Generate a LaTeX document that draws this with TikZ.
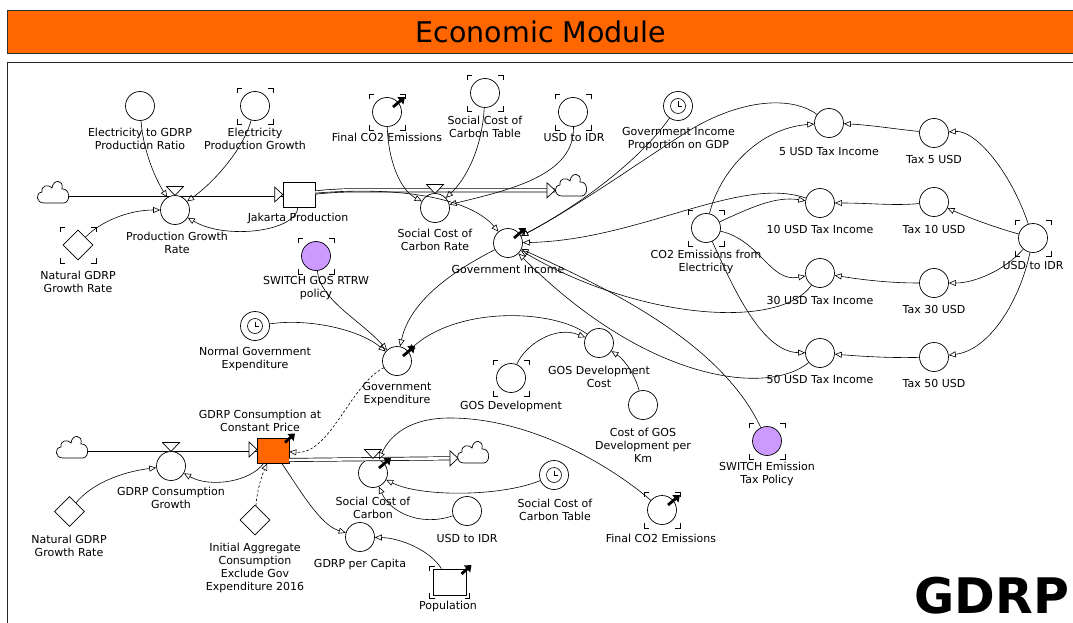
\documentclass[tikz,border=0pt]{standalone}
\usepackage{fontspec}
\setmainfont{DejaVu Sans}
\usetikzlibrary{arrows.meta,shapes.geometric}
\definecolor{vorange}{HTML}{FF6600}
\definecolor{vpurple}{HTML}{CC99FF}
\newcommand\lf{\fontsize{11}{13}\selectfont}
\tikzset{
  pics/brk/.style={code={\draw[line width=0.7pt] (-18,-13)--(-18,-18)--(-13,-18) (13,-18)--(18,-18)--(18,-13) (18,13)--(18,18)--(13,18) (-13,18)--(-18,18)--(-18,13);}},
  pics/brkrect/.style={code={\draw[line width=0.7pt] (-20,-11)--(-20,-16)--(-15,-16) (15,-16)--(20,-16)--(20,-11) (20,11)--(20,16)--(15,16) (-15,16)--(-20,16)--(-20,11);}},
  pics/clk/.style={code={\draw[line width=0.6pt] (0,0) circle[radius=7.5]; \draw[line width=0.6pt] (0,-4.5)--(0,0)--(3.5,0);}},
  pics/oarr/.style={code={\draw[line width=2.8pt,-{Triangle[length=6pt,width=9pt]}] (6,-5)--(18,-15);}},
  pics/oarrs/.style={code={\draw[line width=2.8pt,-{Triangle[length=6pt,width=9pt]}] (12,-8)--(22,-17);}},
  pics/valve/.style={code={\draw[line width=0.7pt,fill=white] (-8.5,-9)--(8.5,-9)--(0,0)--cycle;}},
  pics/fhead/.style={code={\draw[line width=0.7pt,fill=white] (-8,-7.5)--(0,0)--(-8,7.5)--cycle;}},
  pics/vcloud/.style={code={\draw[line width=0.7pt,fill=white] (-9,11) .. controls (-17,11) and (-18,1) .. (-11,0) .. controls (-12,-7) and (-4,-8) .. (-1,-4) .. controls (0,-13) and (11,-13) .. (9,-3) .. controls (17,-4) and (18,10) .. (11,11) -- cycle;}},
}
\begin{document}
\begin{tikzpicture}[x=1pt,y=-1pt,
  aux/.style={circle,draw,line width=0.7pt,minimum size=29pt,inner sep=0pt,fill=white},
  sw/.style={aux,fill=vpurple},
  stockbox/.style={rectangle,draw,line width=0.7pt,minimum width=32pt,minimum height=25pt,inner sep=0pt,fill=white},
  cst/.style={diamond,draw,line width=0.7pt,minimum size=30pt,inner sep=0pt,fill=white},
  lbl/.style={align=center,font=\lf,inner sep=0pt},
  lnk/.style={line width=0.6pt,-{Triangle[open,length=7pt,width=6pt]}},
  dlnk/.style={lnk,dash pattern=on 2.5pt off 2pt},
  pipe/.style={double,double distance=2.6pt,line width=0.7pt},
]
\useasboundingbox (0,0) rectangle (1073,623);
\clip (0,0) rectangle (1073,623);
% title bar and frame
\node[draw=black!80,line width=0.8pt,fill=vorange,minimum width=1080pt,minimum height=43pt,anchor=north west,inner sep=0pt] (title) at (7,10) {};
\node[font=\fontsize{28.5}{32}\selectfont,inner sep=0pt] (ttext) at (541,32) {Economic Module};
\draw[line width=0.9pt,black!85] (1090,62) -- (7,62) -- (7,640);
\node[font=\fontsize{49}{52}\selectfont\bfseries,inner sep=0pt,anchor=base] (gdrp) at (992,613) {GDRP};

% ---------- top-left: Jakarta production ----------
\coordinate (cl1) at (53,192);
\node[aux] (etg) at (140,106) {};
\node[aux] (epg) at (255,106) {}; \pic at (255,106) {brk};
\node[stockbox] (jp) at (299,194.5) {};
\draw[pipe] (68,194.5) -- (jp.west);
\pic at (cl1) {vcloud};
\pic at (jp.west) {fhead};
\node[aux] (pgr) at (175,210) {};
\pic at (175,195.5) {valve};
\node[cst] (ngr1) at (78,245) {}; \pic at (78,245) {brk};

% outflow of Jakarta production
\coordinate (cl2) at (571,185);
\node[aux] (sccr) at (435,208) {};
\draw[pipe] (jp.east) ++(0,-2) .. controls (330,191) and (340,190.3) .. (360,190.3) -- (555,190.3);
\pic at (cl2) {vcloud};
\pic at (555,190.3) {fhead};
\pic at (435,193.5) {valve};

\node[aux] (fce1) at (387,112) {}; \pic at (387,112) {brk}; \pic at (387,112) {oarr};
\node[aux] (scct1) at (485,93) {}; \pic at (485,93) {brk};
\node[aux] (usd1) at (573,112) {}; \pic at (573,112) {brk};
\node[aux] (gipg) at (678,106) {}; \pic at (678,106) {clk};
\node[aux] (gi) at (508,243) {}; \pic at (508,243) {oarr};

% ---------- right: tax incomes ----------
\node[aux] (t5i) at (829,123) {};
\node[aux] (t5) at (934,133) {};
\node[aux] (t10i) at (820,203) {};
\node[aux] (t10) at (934,202) {};
\node[aux] (co2e) at (706,228) {}; \pic at (706,228) {brk};
\node[aux] (t30i) at (820,273) {};
\node[aux] (t30) at (934,283) {};
\node[aux] (t50i) at (820,353) {};
\node[aux] (t50) at (934,357) {};
\node[aux] (usd2) at (1033,238) {}; \pic at (1033,238) {brk};

% ---------- middle ----------
\node[sw] (sgos) at (316,256) {}; \pic at (316,256) {brk};
\node[aux] (nge) at (255,326) {}; \pic at (255,326) {clk};
\node[aux] (ge) at (397,361) {}; \pic at (397,361) {oarr};
\node[aux] (gdc) at (599,343) {};
\node[aux] (gd) at (511,378) {}; \pic at (511,378) {brk};
\node[aux] (cgk) at (643,405) {};
\node[sw] (set) at (767,441) {}; \pic at (767,441) {brk};

% ---------- bottom: GDRP consumption ----------
\coordinate (cl3) at (72,447);
\node[stockbox,fill=vorange] (gcs) at (273,450.5) {};
\draw[pipe] (87,449.5) -- (gcs.west |- 0,449.5);
\pic at (cl3) {vcloud};
\pic at (257,449.5) {fhead};
\node[aux] (gcg) at (171,466) {};
\pic at (171,451.5) {valve};
\pic at (273,450.5) {oarrs};

\coordinate (cl4) at (473,452);
\node[aux] (scc) at (373,473) {};
\draw[pipe] (289,460) -- (452,458.3);
\pic at (cl4) {vcloud};
\pic at (458,458.3) {fhead};
\pic at (373,458.5) {valve};
\pic at (373,473) {oarr};

\node[cst] (ngr2) at (69.5,511.5) {};
\node[cst] (iac) at (255,520) {};
\node[aux] (usd3) at (467,511) {};
\node[aux] (scct2) at (554,475) {}; \pic at (554,475) {clk};
\node[aux] (fce2) at (662,510) {}; \pic at (662,510) {brk}; \pic at (662,510) {oarr};
\node[aux] (gpc) at (360,537) {};
\node[stockbox,minimum width=33pt,minimum height=26pt] (pop) at (449.5,582) {}; \pic at (449.5,582) {brkrect}; \pic at (449.5,582) {oarrs};

% ---------- labels ----------
\node[lbl] (l-etg) at (140,139) {Electricity to GDRP\\Production Ratio};
\node[lbl] (l-epg) at (255,139) {Electricity\\Production Growth};
\node[lbl] (l-pgr) at (177,243) {Production Growth\\Rate};
\node[lbl] (l-jp) at (298,218) {Jakarta Production};
\node[lbl] (l-ngr1) at (78,282) {Natural GDRP\\Growth Rate};
\node[lbl] (l-fce1) at (387,137) {Final CO2 Emissions};
\node[lbl] (l-scct1) at (485,127) {Social Cost of\\Carbon Table};
\node[lbl] (l-usd1) at (574,137) {USD to IDR};
\node[lbl] (l-gipg) at (678.5,139) {Government Income\\Proportion on GDP};
\node[lbl] (l-sccr) at (435,239.5) {Social Cost of\\Carbon Rate};
\node[lbl] (l-gi) at (508,269) {Government Income};
\node[lbl] (l-t5i) at (829,151) {5 USD Tax Income};
\node[lbl] (l-t5) at (934,159) {Tax 5 USD};
\node[lbl] (l-t10i) at (820,229) {10 USD Tax Income};
\node[lbl] (l-t10) at (934,229) {Tax 10 USD};
\node[lbl] (l-co2e) at (706,261.5) {CO2 Emissions from\\Electricity};
\node[lbl] (l-t30i) at (820,300) {30 USD Tax Income};
\node[lbl] (l-t30) at (934,309) {Tax 30 USD};
\node[lbl] (l-t50i) at (820,379) {50 USD Tax Income};
\node[lbl] (l-t50) at (934,383) {Tax 50 USD};
\node[lbl] (l-usd2) at (1033,265) {USD to IDR};
\node[lbl] (l-sgos) at (316,288.5) {SWITCH GOS RTRW\\policy};
\node[lbl] (l-nge) at (255,358.5) {Normal Government\\Expenditure};
\node[lbl] (l-ge) at (397,394.5) {Government\\Expenditure};
\node[lbl] (l-gdc) at (599,377) {GOS Development\\Cost};
\node[lbl] (l-gd) at (511,406) {GOS Development};
\node[lbl] (l-cgk) at (643,445) {Cost of GOS\\Development per\\Km};
\node[lbl] (l-set) at (767,473.5) {SWITCH Emission\\Tax Policy};
\node[lbl] (l-gcs) at (260,420.5) {GDRP Consumption at\\Constant Price};
\node[lbl] (l-gcg) at (171,498) {GDRP Consumption\\Growth};
\node[lbl] (l-ngr2) at (69,546) {Natural GDRP\\Growth Rate};
\node[lbl] (l-iac) at (255,568) {Initial Aggregate\\Consumption\\Exclude Gov\\Expenditure 2016};
\node[lbl] (l-scc) at (373,507.5) {Social Cost of\\Carbon};
\node[lbl] (l-usd3) at (467,538) {USD to IDR};
\node[lbl] (l-scct2) at (555,509.5) {Social Cost of\\Carbon Table};
\node[lbl] (l-fce2) at (661,538) {Final CO2 Emissions};
\node[lbl] (l-gpc) at (360,564) {GDRP per Capita};
\node[lbl] (l-pop) at (448,606) {Population};

% ---------- links ----------
\draw[lnk] (etg) .. controls (143,150) and (155,178) .. (pgr);
\draw[lnk] (epg) .. controls (243,150) and (213,183) .. (pgr);
\draw[lnk] (ngr1) .. controls (100,222) and (128,210) .. (pgr);
\draw[lnk] (jp) .. controls (296,232) and (225,240) .. (pgr);

\draw[lnk] (fce1) .. controls (388,160) and (400,190) .. (sccr);
\draw[lnk] (scct1) .. controls (482,150) and (465,180) .. (sccr);
\draw[lnk] (usd1) .. controls (575,175) and (510,190) .. (sccr);
\draw[lnk] (jp) .. controls (400,186) and (470,198) .. (gi);
\draw[lnk] (gipg) .. controls (640,160) and (580,205) .. (gi);
\draw[lnk] (t5i) .. controls (790,95) and (740,100) .. (690,130) .. controls (645,158) and (580,205) .. (gi);
\draw[lnk] (t10i) .. controls (740,175) and (640,240) .. (gi);
\draw[lnk] (t30i) .. controls (780,330) and (640,320) .. (gi);
\draw[lnk] (t50i) .. controls (770,395) and (650,385) .. (gi);
\draw[lnk] (set) .. controls (720,340) and (600,285) .. (gi);
\draw[lnk] (gi) .. controls (455,270) and (410,300) .. (ge);

\draw[lnk] (t5) .. controls (895,129) and (870,125) .. (t5i);
\draw[lnk] (t10) .. controls (895,206) and (870,203) .. (t10i);
\draw[lnk] (t30) .. controls (895,283) and (870,281) .. (t30i);
\draw[lnk] (t50) .. controls (895,358) and (870,357) .. (t50i);
\draw[lnk] (usd2) .. controls (1010,170) and (975,130) .. (t5);
\draw[lnk] (usd2) .. controls (990,226) and (965,216) .. (t10);
\draw[lnk] (usd2) .. controls (1005,270) and (975,283) .. (t30);
\draw[lnk] (usd2) .. controls (1020,300) and (990,350) .. (t50);
\draw[lnk] (co2e) .. controls (720,170) and (760,128) .. (t5i);
\draw[lnk] (co2e) .. controls (750,208) and (775,196) .. (t10i);
\draw[lnk] (co2e) .. controls (760,240) and (770,283) .. (t30i);
\draw[lnk] (co2e) .. controls (730,280) and (760,352) .. (t50i);

\draw[lnk] (sgos) .. controls (320,300) and (360,320) .. (ge);
\draw[lnk] (nge) .. controls (310,318) and (360,330) .. (ge);
\draw[lnk] (gdc) .. controls (555,310) and (460,305) .. (ge);
\draw[lnk] (gd) .. controls (525,345) and (555,325) .. (gdc);
\draw[lnk] (cgk) .. controls (635,375) and (625,360) .. (gdc);

\draw[lnk] (ngr2) .. controls (90,485) and (120,472) .. (gcg);
\draw[lnk] (gcs) .. controls (250,482) and (210,488) .. (gcg);
\draw[dlnk] (iac) .. controls (257,490) and (262,475) .. (gcs);
\draw[dlnk] (ge) .. controls (350,385) and (330,455) .. (gcs);
\draw[lnk] (gcs) .. controls (300,490) and (320,525) .. (gpc);
\draw[lnk] (pop) .. controls (430,550) and (400,538) .. (gpc);
\draw[lnk] (fce2) .. controls (610,465) and (530,418) .. (450,418) .. controls (410,418) and (390,435) .. (scc);
\draw[lnk] (scct2) .. controls (500,497) and (420,497) .. (scc);
\draw[lnk] (usd3) .. controls (420,527) and (390,512) .. (scc);
\end{tikzpicture}
\end{document}
